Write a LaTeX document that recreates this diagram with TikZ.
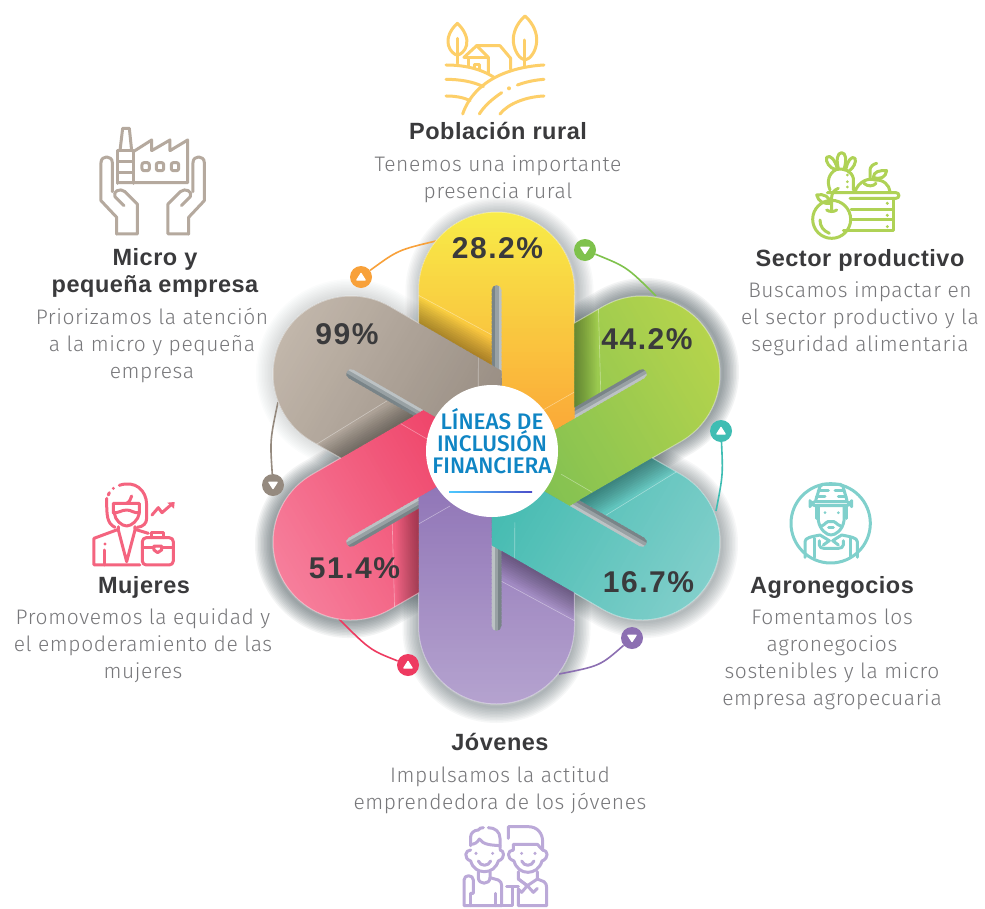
\documentclass[tikz,border=0pt]{standalone}
\usepackage{fontspec}
\usetikzlibrary{calc}
\setmainfont{Liberation Sans}
\newfontfamily\bodyf[LetterSpace=2.9]{Fira Sans Light}
\newfontfamily\headf[LetterSpace=2.2]{Liberation Sans Bold}
\newfontfamily\pctf[LetterSpace=5]{Liberation Sans Bold}
\newfontfamily\ctrf{Fira Sans Medium}
\definecolor{txt}{HTML}{3A3A3C}
\definecolor{bodyc}{HTML}{77777A}
\definecolor{yA}{HTML}{F8EC48}\definecolor{yB}{HTML}{FBA036}
\definecolor{gA}{HTML}{B6D44C}\definecolor{gB}{HTML}{7DBF52}
\definecolor{tA}{HTML}{82CFCB}\definecolor{tB}{HTML}{3EB9AE}
\definecolor{pA}{HTML}{B5A3CF}\definecolor{pB}{HTML}{8C70B4}
\definecolor{rA}{HTML}{F67F9C}\definecolor{rB}{HTML}{EE3C62}
\definecolor{bA}{HTML}{C2B7AB}\definecolor{bB}{HTML}{94897F}
\definecolor{icY}{HTML}{FDCF69}
\definecolor{icB}{HTML}{B5A99E}
\definecolor{icG}{HTML}{AFD256}
\definecolor{icT}{HTML}{80D0CC}
\definecolor{icR}{HTML}{F4647F}
\definecolor{icP}{HTML}{BBA9D8}
\definecolor{dotO}{HTML}{F8A13A}
\definecolor{dotG}{HTML}{7FC24C}
\definecolor{dotT}{HTML}{3FBDB3}
\definecolor{dotP}{HTML}{8C6FB2}
\definecolor{dotR}{HTML}{EE3A60}
\definecolor{dotB}{HTML}{958A7F}
\definecolor{ctrc}{HTML}{0F85C4}
\definecolor{shadow}{HTML}{3A4A50}
\tikzset{
  head/.style={font=\headf\fontsize{23.5}{26.5}\selectfont,text=txt,align=center,anchor=base,inner sep=0pt},
  para/.style={font=\bodyf\fontsize{21}{26.8}\selectfont,text=bodyc,align=center,anchor=base,inner sep=0pt},
  pct/.style={font=\pctf\fontsize{30}{30}\selectfont,text=txt,anchor=base,inner sep=0pt},
  ctr/.style={font=\ctrf\fontsize{22.5}{22}\selectfont,text=ctrc,align=center,anchor=base,inner sep=0pt},
  dotn/.style={circle,fill=#1,minimum size=22pt,inner sep=0pt},
  conn/.style={line width=1.6pt,#1},
  ico/.style={line width=3pt,color=#1,line cap=round,line join=round},
  zm/.style={x=0.3333pt,y=-0.3333pt},
  fl/.style={x=1pt,y=1pt}
}
% one petal, top position, y upward, origin at the flower centre
\def\petalpath{(5,-3) -- (78,39.2) -- (78,168) arc[start angle=0,end angle=180,radius=78] -- (-78,135) -- (-5,92.9) -- (-5,168) arc[start angle=180,end angle=0,radius=5] -- cycle}
\def\silh{(60:155.9) \foreach \t in {90,150,210,270,330,390}{ -- ($(\t:168)+(\t-90:78)$) arc[start angle=\t-90,delta angle=180,radius=78] -- (\t+30:155.9)} -- cycle}
\newcommand\tridn[2]{\fill[white,line join=round,draw=white,line width=1.2pt] (#1-4.2,#2-2.8) -- (#1+4.2,#2-2.8) -- (#1,#2+3.6) -- cycle;}
\newcommand\triup[2]{\fill[white,line join=round,draw=white,line width=1.2pt] (#1-4.2,#2+3) -- (#1+4.2,#2+3) -- (#1,#2-3.6) -- cycle;}
\begin{document}
\begin{tikzpicture}[x=1pt,y=-1pt]
\useasboundingbox (0,0) rectangle (985,908);
\fill[white] (0,0) rectangle (985,908);

% ---------- flower: cast shadows, one lobe at a time
\begin{scope}[shift={(496.5,458)},fl]
  \foreach \k/\dx/\dy/\op in {0/3/-1/.03,1/3/2/.06,2/2/-2/.04,3/0/-3/.045,4/-2/-2/.06,5/-1/1/.015}{
    \begin{scope}[shift={(\dx,\dy)},rotate=-60*\k]
      \foreach \w in {2,5,...,32}{
        \draw[shadow,opacity=\op,line width=\w pt,line join=round] (78,100) -- (78,168) arc[start angle=0,end angle=180,radius=78] -- (-78,100);
      }
    \end{scope}
  }
  \fill[shadow!80] \silh;
\end{scope}

% connectors
\coordinate (e1) at (436,241);
\coordinate (e2) at (656,296);
\coordinate (e3) at (716,511);
\coordinate (e4) at (559,674);
\coordinate (e5) at (339,619);
\coordinate (e6) at (278,402);
\node[dotn=dotO] (d1) at (361,277) {};
\node[dotn=dotG] (d2) at (585,250) {};
\node[dotn=dotT] (d3) at (721,431) {};
\node[dotn=dotP] (d4) at (632,638) {};
\node[dotn=dotR] (d5) at (408,665) {};
\node[dotn=dotB] (d6) at (273,485) {};
\draw[conn=dotO] (d1) .. controls (398,250) .. (e1);
\draw[conn=dotG] (d2) .. controls (627,267) .. (e2);
\draw[conn=dotT] (d3) .. controls (723,475) .. (e3);
\draw[conn=dotP] (d4) .. controls (600,666) .. (e4);
\draw[conn=dotR] (d5) .. controls (370,650) .. (e5);
\draw[conn=dotB] (d6) .. controls (270,440) .. (e6);
\triup{361}{277}
\tridn{585}{250}
\triup{721}{431}
\tridn{632}{638}
\triup{408}{665}
\tridn{273}{485}

\begin{scope}[shift={(496.5,458)},fl]
  % slot floors first, so that every petal lies above them
  \foreach \k in {0,...,5}{
    \begin{scope}[rotate=-60*\k]
      \fill[shadow!68] (-6,80) rectangle (6,175);
      \fill[shadow!52] (-1.5,80) rectangle (6,175);
      \fill[shadow!34] (2,80) rectangle (6,175);
    \end{scope}
  }
  \foreach \k/\ca/\cb in {0/yA/yB,1/gA/gB,2/tA/tB,3/pA/pB,4/rA/rB,5/bA/bB}{
    \begin{scope}[rotate=-60*\k]
      \begin{scope}
        \clip \petalpath;
        \foreach \i in {0,...,68}{
          \pgfmathtruncatemacro\p{min(100,100*\i/62)}
          \pgfmathsetmacro\yy{250-4*\i}
          \fill[\cb!\p!\ca] (-95,\yy) rectangle (95,\yy-5);
        }
        \begin{scope}
          \clip (-100,0) rectangle (0,300);
          \foreach \w in {4,8,...,44}{
            \draw[black,opacity=.03,line width=\w pt] (-110,153.5) -- (10,84.5);
          }
        \end{scope}
        \draw[white,opacity=.4,line width=.6pt] (-78.5,163) -- (-4.5,123);
        \draw[white,opacity=.4,line width=.6pt] (78,66) -- (46.5,48);
      \end{scope}
    \end{scope}
  }
  \draw[white,opacity=.45,line width=1pt] \silh;
\end{scope}

% ---------- centre
\node[circle,fill=white,minimum size=132pt,inner sep=0pt] (hub) at (492,451) {};
\node[ctr] (hubtext) at (492,473) {LÍNEAS DE\\INCLUSIÓN\\FINANCIERA};
\shade[left color=cyan!70!blue!70,right color=blue!70!black!70,shading=axis] (449,491.2) rectangle (532,492.8);

% ---------- percentages
\node[pct] (v1) at (497.5,258) {28.2\%};
\node[pct] (v2) at (647,349) {44.2\%};
\node[pct] (v3) at (648.5,592) {16.7\%};
\node[pct] (v4) at (354.5,578) {51.4\%};
\node[pct] (v5) at (347,344) {99\%};

% ---------- labels (the anchor sits on the last line's baseline)
\node[head] (h1) at (498,139) {Población rural};
\node[para] (t1) at (498,198) {Tenemos una importante\\presencia rural};
\node[head] (h2) at (155,292) {Micro y\\pequeña empresa};
\node[para] (t2) at (152,378) {Priorizamos la atención\\a la micro y pequeña\\empresa};
\node[head] (h3) at (860,266) {Sector productivo};
\node[para] (t3) at (860,351) {Buscamos impactar en\\el sector productivo y la\\seguridad alimentaria};
\node[head] (h4) at (832,593) {Agronegocios};
\node[para] (t4) at (832,705) {Fomentamos los\\agronegocios\\sostenibles y la micro\\empresa agropecuaria};
\node[head] (h5) at (144,593) {Mujeres};
\node[para] (t5) at (143,678) {Promovemos la equidad y\\el empoderamiento de las\\mujeres};
\node[head] (h6) at (500,750) {Jóvenes};
\node[para] (t6) at (500,809) {Impulsamos la actitud\\emprendedora de los jóvenes};

% ---------- icon: rural
\begin{scope}[shift={(420,0)},zm,ico=icY]
  \draw (112,70) .. controls (90,90) and (80,115) .. (85,135) .. controls (90,155) and (105,165) .. (112,165) .. controls (120,165) and (135,155) .. (140,135) .. controls (144,115) and (134,90) .. (112,70) -- cycle;
  \draw (112,115) -- (112,190);
  \draw (315,48) .. controls (290,70) and (278,100) .. (280,125) .. controls (283,155) and (300,178) .. (315,180) .. controls (330,178) and (348,155) .. (350,125) .. controls (352,100) and (340,70) .. (315,48) -- cycle;
  \draw (315,120) -- (315,200);
  \draw (132,172) -- (170,137) -- (240,137) -- (272,175) -- (272,208);
  \draw (170,137) -- (205,172) -- (205,222);
  \draw (145,172) -- (145,200);
  \draw (132,172) -- (205,172);
  \draw (162,205) -- (162,195) -- (180,195) -- (180,210);
  \draw (78,195) .. controls (130,195) and (180,205) .. (222,232);
  \draw (372,195) .. controls (280,200) and (165,235) .. (128,342);
  \draw (78,238) .. controls (120,238) and (160,245) .. (190,260);
  \draw (78,288) .. controls (105,288) and (130,292) .. (150,302);
  \draw (292,255) .. controls (320,245) and (345,240) .. (372,238);
  \draw (240,342) .. controls (265,310) and (320,290) .. (372,288);
  \draw (178,342) .. controls (195,315) and (220,295) .. (245,278);
  \fill[icY] (267,265) circle[radius=6];
\end{scope}

% ---------- icon: factory in hands
\begin{scope}[shift={(80,110)},zm,ico=icB]
  \draw (113,220) -- (113,122) -- (160,122) -- (160,220);
  \draw (113,155) -- (160,155) (113,187) -- (160,187);
  \draw (120,122) -- (128,55) -- (148,55) -- (155,122);
  \draw (160,125) -- (215,90) -- (215,122) -- (270,90) -- (270,122) -- (323,90) -- (323,218) -- (113,218);
  \draw[rounded corners=2pt] (186,158) rectangle (208,182);
  \draw[rounded corners=2pt] (229,158) rectangle (251,182);
  \draw[rounded corners=2pt] (274,158) rectangle (296,182);
  \foreach \m/\s in {0/1,436/-1}{
    \begin{scope}[xshift=\m*0.3333pt,x=\s*0.3333pt]
      \draw (110,372) -- (110,322) -- (63,272) -- (63,158) .. controls (63,135) and (97,135) .. (97,158) -- (97,245);
      \draw (110,372) -- (172,372) -- (172,282) -- (135,245) .. controls (120,232) and (97,245) .. (105,260) -- (132,287);
    \end{scope}
  }
\end{scope}

% ---------- icon: produce
\begin{scope}[shift={(790,140)},zm,ico=icG]
  \draw[rounded corners=3pt] (112,158) -- (327,158) -- (327,175) -- (180,175);
  \draw (310,175) -- (310,272) -- (160,272);
  \draw (183,208) -- (310,208) (183,240) -- (310,240);
  \fill[icG] (292,190) circle[radius=5] (292,226) circle[radius=5] (292,260) circle[radius=5];
  \draw (125,238) circle[radius=57];
  \draw (90,240) .. controls (90,260) and (100,272) .. (118,280);
  \draw (125,215) -- (125,172) .. controls (125,160) and (132,150) .. (145,145);
  \draw (110,210) .. controls (118,216) and (132,216) .. (140,210);
  \draw (80,165) .. controls (100,160) and (120,170) .. (122,190) .. controls (100,192) and (85,185) .. (80,165) -- cycle;
  \draw (120,150) .. controls (110,125) and (115,100) .. (140,88) .. controls (160,84) and (185,92) .. (190,115) -- (190,150);
  \draw (135,88) .. controls (120,85) and (105,65) .. (110,52) .. controls (120,42) and (135,60) .. (142,85);
  \draw (145,85) .. controls (138,60) and (142,38) .. (155,38) .. controls (168,38) and (170,60) .. (163,85);
  \draw (168,85) .. controls (172,65) and (185,45) .. (195,55) .. controls (200,65) and (190,85) .. (178,92);
  \fill[icG] (172,105) circle[radius=4.5] (172,125) circle[radius=4.5] (172,141) circle[radius=4.5];
  \draw (195,155) .. controls (205,125) and (235,112) .. (255,120) .. controls (280,118) and (298,135) .. (300,155);
  \draw (240,118) -- (240,90) .. controls (240,80) and (250,72) .. (260,70);
  \draw (222,130) .. controls (232,140) and (250,140) .. (258,130);
  \draw (250,112) .. controls (250,95) and (270,90) .. (290,92) .. controls (288,112) and (270,120) .. (250,112) -- cycle;
\end{scope}

% ---------- icon: farmer
\begin{scope}[shift={(770,470)},zm,ico=icT]
  \draw (182,160) circle[radius=119];
  \draw[rounded corners=2pt] (152,43) -- (217,43) -- (232,95) -- (136,95) -- cycle;
  \draw (145,60) -- (175,60) (195,60) -- (222,60) (140,78) -- (165,78) (205,78) -- (228,78);
  \draw[rounded corners=5pt] (120,95) rectangle (245,107);
  \draw (138,107) -- (138,145) (228,107) -- (228,145);
  \draw (145,110) -- (145,152) .. controls (150,180) and (170,195) .. (183,195) .. controls (197,195) and (218,180) .. (222,152) -- (222,110);
  \fill[icT] (165,128) circle[radius=4.5] (205,128) circle[radius=4.5];
  \draw (155,168) .. controls (165,165) and (170,150) .. (183,155) .. controls (195,150) and (200,165) .. (212,168);
  \draw (176,172) -- (190,172);
  \draw (105,262) -- (105,215) .. controls (105,203) and (125,200) .. (150,195) -- (178,212) -- (160,225);
  \draw (262,262) -- (262,215) .. controls (262,203) and (240,200) .. (215,195) -- (188,212) -- (205,225);
  \draw (148,212) -- (148,225) .. controls (148,232) and (155,235) .. (162,235) -- (205,235) .. controls (212,235) and (220,232) .. (220,225) -- (220,212);
  \draw (132,205) -- (132,262) (240,205) -- (240,262);
\end{scope}

% ---------- icon: woman
\begin{scope}[shift={(80,470)},zm,ico=icR]
  \draw (118,46) .. controls (165,30) and (200,60) .. (200,105) -- (200,145) .. controls (200,160) and (190,170) .. (172,172);
  \draw (80,85) .. controls (80,135) and (80,160) .. (105,172);
  \fill[icR] (100,55) circle[radius=5];
  \draw (85,75) -- (88,68);
  \draw (100,100) -- (178,100) -- (178,128) .. controls (160,130) and (155,120) .. (140,120) .. controls (125,120) and (115,130) .. (100,128) -- cycle;
  \draw (140,100) .. controls (150,95) and (152,85) .. (155,78);
  \draw (103,130) .. controls (105,150) and (125,168) .. (140,168) .. controls (155,168) and (175,150) .. (178,130);
  \draw (115,170) -- (115,178) -- (42,205) -- (42,285) -- (180,285);
  \draw (165,170) -- (165,178) -- (205,190);
  \draw (115,180) -- (140,275) -- (165,180);
  \draw (75,240) -- (75,285);
  \fill[icR] (75,222) circle[radius=5];
  \draw[rounded corners=4pt] (187,203) rectangle (280,285);
  \draw (215,203) -- (215,187) -- (252,187) -- (252,203);
  \draw (187,232) -- (222,232) (245,232) -- (280,232);
  \draw (222,228) -- (245,228) -- (245,240) -- (233,248) -- (222,240) -- cycle;
  \draw (216,135) -- (235,113) -- (246,128) -- (276,102);
  \fill[icR] (262,98) -- (284,96) -- (282,116) -- cycle;
\end{scope}

% ---------- icon: youths
\begin{scope}[shift={(450,815)},zm,ico=icP]
  \draw (62,92) -- (62,65) .. controls (62,55) and (72,45) .. (85,45) .. controls (88,40) and (92,38) .. (100,38);
  \draw (115,38) .. controls (135,38) and (150,50) .. (150,70) -- (150,100);
  \draw (62,88) .. controls (75,88) and (82,82) .. (88,72) .. controls (100,90) and (125,90) .. (150,92);
  \draw (62,105) .. controls (45,105) and (40,130) .. (62,138) .. controls (68,160) and (85,170) .. (103,170) .. controls (122,170) and (138,160) .. (145,138) .. controls (168,130) and (162,105) .. (150,105);
  \fill[icP] (78,115) circle[radius=5] (128,115) circle[radius=5];
  \draw (85,138) .. controls (92,155) and (115,155) .. (122,138);
  \draw (85,170) -- (85,188) .. controls (85,210) and (120,210) .. (120,188) -- (120,170);
  \draw (120,188) -- (145,195) .. controls (152,198) and (155,205) .. (155,212) -- (155,272) -- (42,272) -- (42,195) .. controls (42,178) and (70,178) .. (70,195) -- (70,235) -- (62,235);
  \draw (62,235) -- (62,272);
  \draw (135,235) -- (135,272);
  \draw (175,70) -- (175,35) -- (235,35) .. controls (262,35) and (278,55) .. (278,80) -- (278,105);
  \draw (190,105) -- (190,88) -- (262,88) -- (278,105);
  \draw (190,105) .. controls (172,105) and (168,130) .. (192,138) .. controls (198,160) and (215,172) .. (234,172) .. controls (252,172) and (270,160) .. (276,138) .. controls (298,130) and (294,105) .. (278,105);
  \fill[icP] (215,115) circle[radius=5] (255,115) circle[radius=5];
  \draw (215,138) .. controls (222,155) and (245,155) .. (252,138);
  \draw (205,170) -- (205,192) -- (232,212) -- (262,192) -- (262,170);
  \draw (262,192) -- (282,200) .. controls (288,205) and (290,210) .. (290,218) -- (290,272) -- (205,272) -- (205,222);
  \draw (205,192) -- (232,212) -- (215,232) -- (205,222) (232,212) -- (250,232) -- (262,220);
  \draw (170,215) -- (205,215);
  \draw (188,215) -- (188,272) -- (155,272);
\end{scope}
\end{tikzpicture}
\end{document}
